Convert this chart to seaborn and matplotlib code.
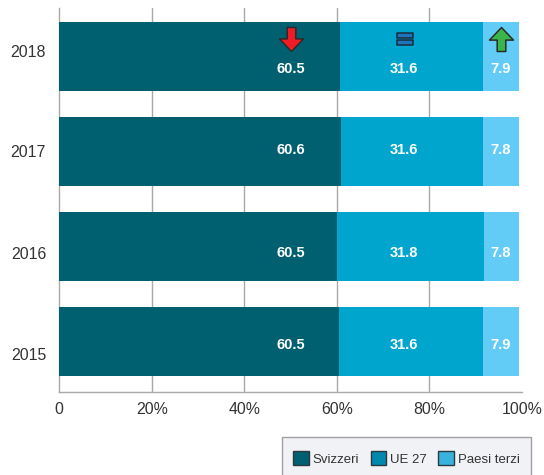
import matplotlib
matplotlib.use("Agg")
import matplotlib.pyplot as plt
import seaborn as sns
import pandas as pd
from matplotlib.patches import Patch, Rectangle
from matplotlib.path import Path

years = ["2018", "2017", "2016", "2015"]
series = ["Svizzeri", "UE 27", "Paesi terzi"]
# Segment lengths as drawn in the picture
svizzeri = [60.6, 60.9, 60.0, 60.4]
ue27 = [30.9, 30.7, 31.7, 31.1]
paesi = [7.8, 7.7, 7.6, 7.8]
# Value labels as printed
lab_svizzeri = ["60.5", "60.6", "60.5", "60.5"]
lab_ue27 = ["31.6", "31.6", "31.8", "31.6"]
lab_paesi = ["7.9", "7.8", "7.8", "7.9"]
xticks = [0, 20, 40, 60, 80, 100]
xticklabels = ["0", "20%", "40%", "60%", "80%", "100%"]

bar_colors = ["#00606F", "#00A5CE", "#62CCF7"]
leg_colors = ["#00606F", "#0088AE", "#3AB3DC"]
GREY = "#A9A9A9"
TXT = "#333333"
W, H = 544, 475

sns.set_theme(style="white")
plt.rcParams["font.family"] = ["Liberation Sans", "DejaVu Sans"]

px = 0.72
fig = plt.figure(figsize=(W / 100, H / 100), dpi=100)
ax = fig.add_axes([59.3 / W, 1 - 392 / H, (522 - 59.3) / W, (392 - 8) / H])

df = pd.DataFrame({"year": years, "a": svizzeri, "b": ue27, "c": paesi})
df["ab"] = df["a"] + df["b"]
common = dict(data=df, y="year", order=years, orient="h", width=0.726, saturation=1,
              ax=ax, zorder=3, linewidth=0, edgecolor="none")
sns.barplot(x="a", color=bar_colors[0], **common)
sns.barplot(x="b", left=df["a"], color=bar_colors[1], **common)
sns.barplot(x="c", left=df["ab"], color=bar_colors[2], **common)

ax.set_xlim(0, 100)
ax.set_ylim(3.532, -0.51)
ax.set_xlabel("")
ax.set_ylabel("")

for s in ["top", "right"]:
    ax.spines[s].set_visible(False)
for s in ["left", "bottom"]:
    ax.spines[s].set_color(GREY)
    ax.spines[s].set_linewidth(1.4 * px)
for v in xticks[1:-1]:
    ax.axvline(v, color=GREY, lw=1.4 * px, zorder=1)

ax.set_xticks(xticks, xticklabels)
ytick_shift = [-5.5, -0.5, 6.5, 12.5]
ax.set_yticks([i + d / 95 for i, d in enumerate(ytick_shift)], years)
ax.tick_params(axis="both", length=0, labelsize=15.9 * px, labelcolor=TXT)
ax.tick_params(axis="x", pad=7)
ax.tick_params(axis="y", pad=9.5)

label_x = [50, 74.5, 95.4]
label_shift = [12.5, -1.5, 6.5, 3.5]
for i, d in enumerate(label_shift):
    for x, vals in zip(label_x, [lab_svizzeri, lab_ue27, lab_paesi]):
        ax.text(x, i + d / 95, vals[i], color="white", fontsize=14.6 * px, fontweight="bold",
                ha="center", va="center", zorder=5)

down = Path([(-.36, 1), (.36, 1), (.36, .05), (1, .05), (0, -1), (-1, .05), (-.36, .05), (-.36, 1)], closed=True)
up = Path([(-.36, -1), (.36, -1), (.36, -.05), (1, -.05), (0, 1), (-1, -.05), (-.36, -.05), (-.36, -1)], closed=True)
equal = Path([(-1, .75), (1, .75), (1, .15), (-1, .15), (-1, .75),
              (-1, -.15), (1, -.15), (1, -.75), (-1, -.75), (-1, -.15)],
             [Path.MOVETO, Path.LINETO, Path.LINETO, Path.LINETO, Path.CLOSEPOLY,
              Path.MOVETO, Path.LINETO, Path.LINETO, Path.LINETO, Path.CLOSEPOLY])
ay = -17.5 / 95
ax.plot([label_x[0]], [ay], marker=down, ms=24 * px, mfc="#EE1C25", mec="#2A2A2A", mew=1.5 * px, zorder=6, ls="none")
ax.plot([74.8], [ay], marker=equal, ms=16 * px, mfc="#1B75BB", mec="#1A2A3A", mew=1.5 * px, zorder=6, ls="none")
ax.plot([95.4], [ay], marker=up, ms=24 * px, mfc="#39B54A", mec="#2A2A2A", mew=1.5 * px, zorder=6, ls="none")

# Legend panel running off the bottom edge
fig.add_artist(Rectangle((282 / W, -0.01), (531 - 282) / W, 1 - 437 / H + 0.01, transform=fig.transFigure,
                         facecolor="#F1F2F5", edgecolor="#A0A0A0", lw=1.4 * px))
handles = [Patch(facecolor=c, edgecolor="#2A3A40", lw=1.4 * px, label=s) for c, s in zip(leg_colors, series)]
fig.legend(handles=handles, loc="center", bbox_to_anchor=(406.5 / W, 1 - 458.5 / H), ncol=3, frameon=False,
           fontsize=13.2 * px, labelcolor=TXT, handlelength=1.2, handleheight=1.25,
           handletextpad=0.3, columnspacing=0.85, borderpad=0, borderaxespad=0)

fig.savefig("out.png", dpi=100)
